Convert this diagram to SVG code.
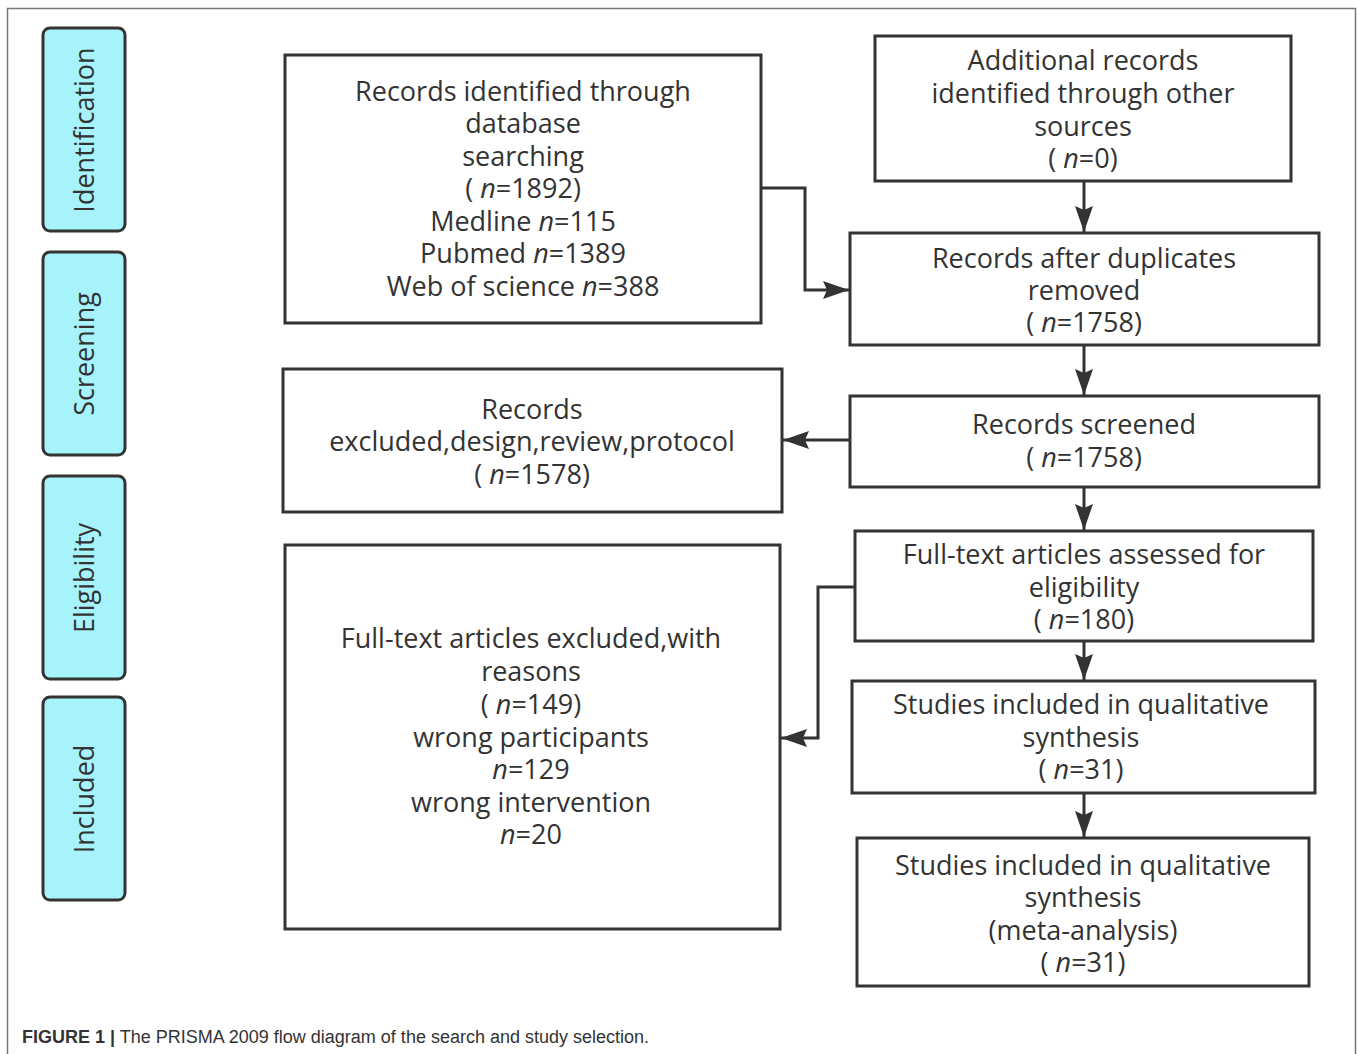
<svg xmlns="http://www.w3.org/2000/svg" width="1357" height="1054" viewBox="0 0 1357 1054">
<style>
.box{fill:#fff;stroke:#333;stroke-width:3}
.side{fill:#a6f3fb;stroke:#333;stroke-width:3}
.t{font-family:"Open Sans","Noto Sans",sans-serif;font-size:27px;fill:#333;text-anchor:middle}
.s{font-family:"Open Sans","Noto Sans",sans-serif;font-size:27px;fill:#333;text-anchor:middle}
.i{font-style:italic}
.c{fill:none;stroke:#333;stroke-width:3}
.cap{font-family:"Liberation Sans",Arial,sans-serif;font-size:18px;fill:#333}
</style>
<defs>
<marker id="ah" markerUnits="userSpaceOnUse" markerWidth="26" markerHeight="18" refX="26" refY="9" orient="auto">
<path d="M0,0 L26,9 L0,18 L4,9 Z" fill="#333"/>
</marker>
</defs>
<rect width="1357" height="1054" fill="#fff"/>
<path d="M7.5,1054 V8.5 H1355.5 V1054" fill="none" stroke="#777" stroke-width="1.5"/>

<g id="side-identification"><rect class="side" x="43" y="28" width="82" height="203" rx="7"/><text class="s" transform="translate(94,130) rotate(-90)">Identification</text></g>
<g id="side-screening"><rect class="side" x="43" y="252" width="82" height="203" rx="7"/><text class="s" transform="translate(94,354) rotate(-90)">Screening</text></g>
<g id="side-eligibility"><rect class="side" x="43" y="476" width="82" height="203" rx="7"/><text class="s" transform="translate(94,578) rotate(-90)">Eligibility</text></g>
<g id="side-included"><rect class="side" x="43" y="697" width="82" height="203" rx="7"/><text class="s" transform="translate(94,799) rotate(-90)">Included</text></g>

<g id="n1"><rect class="box" x="285" y="55" width="476" height="268"/>
<text class="t" x="523" y="101">Records identified through</text>
<text class="t" x="523" y="133">database</text>
<text class="t" x="523" y="166">searching</text>
<text class="t" x="523" y="198">( <tspan class="i">n</tspan>=1892)</text>
<text class="t" x="523" y="231">Medline <tspan class="i">n</tspan>=115</text>
<text class="t" x="523" y="263">Pubmed <tspan class="i">n</tspan>=1389</text>
<text class="t" x="523" y="296">Web of science <tspan class="i">n</tspan>=388</text></g>

<g id="n2"><rect class="box" x="875" y="36" width="416" height="145"/>
<text class="t" x="1083" y="70">Additional records</text>
<text class="t" x="1083" y="103">identified through other</text>
<text class="t" x="1083" y="136">sources</text>
<text class="t" x="1083" y="168">( <tspan class="i">n</tspan>=0)</text></g>

<g id="n3"><rect class="box" x="850" y="233" width="469" height="112"/>
<text class="t" x="1084" y="268">Records after duplicates</text>
<text class="t" x="1084" y="300">removed</text>
<text class="t" x="1084" y="332">( <tspan class="i">n</tspan>=1758)</text></g>

<g id="n4"><rect class="box" x="850" y="396" width="469" height="91"/>
<text class="t" x="1084" y="434">Records screened</text>
<text class="t" x="1084" y="467">( <tspan class="i">n</tspan>=1758)</text></g>

<g id="n5"><rect class="box" x="283" y="369" width="499" height="143"/>
<text class="t" x="532" y="419">Records</text>
<text class="t" x="532" y="451">excluded,design,review,protocol</text>
<text class="t" x="532" y="484">( <tspan class="i">n</tspan>=1578)</text></g>

<g id="n6"><rect class="box" x="855" y="531" width="458" height="110"/>
<text class="t" x="1084" y="564">Full-text articles assessed for</text>
<text class="t" x="1084" y="597">eligibility</text>
<text class="t" x="1084" y="629">( <tspan class="i">n</tspan>=180)</text></g>

<g id="n7"><rect class="box" x="285" y="545" width="495" height="384"/>
<text class="t" x="531" y="648">Full-text articles excluded,with</text>
<text class="t" x="531" y="681">reasons</text>
<text class="t" x="531" y="714">( <tspan class="i">n</tspan>=149)</text>
<text class="t" x="531" y="747">wrong participants</text>
<text class="t" x="531" y="779"><tspan class="i">n</tspan>=129</text>
<text class="t" x="531" y="812">wrong intervention</text>
<text class="t" x="531" y="844"><tspan class="i">n</tspan>=20</text></g>

<g id="n8"><rect class="box" x="852" y="681" width="463" height="112"/>
<text class="t" x="1081" y="714">Studies included in qualitative</text>
<text class="t" x="1081" y="747">synthesis</text>
<text class="t" x="1081" y="779">( <tspan class="i">n</tspan>=31)</text></g>

<g id="n9"><rect class="box" x="857" y="838" width="452" height="148"/>
<text class="t" x="1083" y="875">Studies included in qualitative</text>
<text class="t" x="1083" y="907">synthesis</text>
<text class="t" x="1083" y="940">(meta-analysis)</text>
<text class="t" x="1083" y="972">( <tspan class="i">n</tspan>=31)</text></g>

<g id="connectors">
<path class="c" d="M761,188 H805 V290 H849" marker-end="url(#ah)"/>
<path class="c" d="M1084,181 V232" marker-end="url(#ah)"/>
<path class="c" d="M1084,345 V395" marker-end="url(#ah)"/>
<path class="c" d="M850,440 H783" marker-end="url(#ah)"/>
<path class="c" d="M1084,487 V530" marker-end="url(#ah)"/>
<path class="c" d="M855,587 H818 V738 H781" marker-end="url(#ah)"/>
<path class="c" d="M1084,641 V680" marker-end="url(#ah)"/>
<path class="c" d="M1084,793 V837" marker-end="url(#ah)"/>
</g>

<text class="cap" x="22" y="1043"><tspan font-weight="bold">FIGURE 1 |</tspan> The PRISMA 2009 flow diagram of the search and study selection.</text>
</svg>
